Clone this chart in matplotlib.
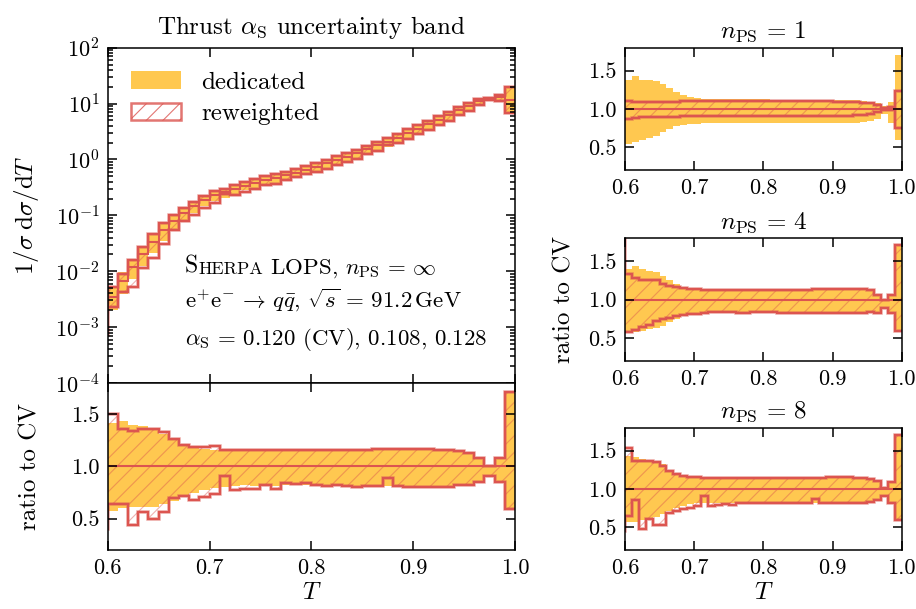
import matplotlib
matplotlib.use('Agg')
import matplotlib.pyplot as plt
from matplotlib.patches import Patch
import numpy as np

plt.rcParams['font.family'] = 'serif'
plt.rcParams['font.serif'] = ['cmr10']
plt.rcParams['mathtext.fontset'] = 'cm'
plt.rcParams['axes.formatter.use_mathtext'] = True
plt.rcParams['hatch.linewidth'] = 0.8

YELLOW = '#FFC850'
RED = '#DC5550'
HATCH = (0.86, 0.33, 0.31, 0.45)
FS = 16   # tick labels
LS = 18   # labels, titles, legend
TS = 16.5 # text block

# bin edges in thrust T (first bin 0.59-0.60 lies just outside the plotted range)
EDGES = np.linspace(0.59, 1.0, 42)

# central value 1/sigma dsigma/dT
CV = [1.8e-3, 3.5e-3, 6.6e-3, 1.2e-2, 2.0e-2, 3.4e-2, 5.4e-2, 7.9e-2, 0.11, 0.148, 0.19,
      0.23, 0.26, 0.30, 0.34, 0.38, 0.43, 0.47, 0.52, 0.58, 0.65,
      0.74, 0.85, 0.98, 1.12, 1.29, 1.51, 1.78, 2.09, 2.45, 2.95,
      3.55, 4.27, 5.13, 6.17, 7.59, 9.12, 11.0, 12.6, 13.2, 11.5]

# n_PS = infinity (ratio to CV)
INF_DED_HI = [1.42, 1.42, 1.44, 1.40, 1.39, 1.37, 1.31, 1.25, 1.21, 1.19, 1.17,
              1.16, 1.16, 1.16, 1.155, 1.155, 1.155, 1.155, 1.16, 1.16, 1.16,
              1.16, 1.16, 1.165, 1.165, 1.165, 1.165, 1.17, 1.17, 1.17, 1.17,
              1.17, 1.17, 1.165, 1.165, 1.155, 1.125, 1.08, 1.0, 1.08, 1.72]
INF_DED_LO = [0.575, 0.575, 0.60, 0.61, 0.61, 0.615, 0.64, 0.67, 0.71, 0.75, 0.77,
              0.79, 0.80, 0.815, 0.82, 0.815, 0.815, 0.815, 0.82, 0.82, 0.82,
              0.815, 0.81, 0.815, 0.81, 0.80, 0.81, 0.81, 0.81, 0.80, 0.80,
              0.80, 0.80, 0.80, 0.80, 0.81, 0.82, 0.85, 0.90, 0.85, 0.59]
INF_RW_HI = [1.50, 1.50, 1.36, 1.34, 1.36, 1.36, 1.33, 1.26, 1.21, 1.19, 1.19,
             1.20, 1.155, 1.155, 1.155, 1.155, 1.155, 1.155, 1.155, 1.155, 1.155,
             1.155, 1.16, 1.16, 1.16, 1.16, 1.16, 1.165, 1.165, 1.165, 1.165,
             1.165, 1.165, 1.16, 1.16, 1.15, 1.125, 1.08, 1.0, 1.08, 1.71]
INF_RW_LO = [0.40, 0.645, 0.645, 0.44, 0.565, 0.50, 0.56, 0.70, 0.72, 0.68, 0.71,
             0.735, 0.91, 0.77, 0.78, 0.78, 0.82, 0.78, 0.84, 0.835, 0.84,
             0.82, 0.81, 0.82, 0.81, 0.80, 0.815, 0.81, 0.885, 0.81, 0.80,
             0.80, 0.80, 0.80, 0.80, 0.82, 0.82, 0.85, 0.91, 0.85, 0.59]

# n_PS = 1
N1_DED_HI = [1.38, 1.38, 1.43, 1.38, 1.38, 1.36, 1.33, 1.27, 1.22, 1.18, 1.15,
             1.14, 1.13, 1.13, 1.13, 1.13, 1.13, 1.13, 1.13, 1.125, 1.125,
             1.125, 1.12, 1.12, 1.12, 1.12, 1.12, 1.12, 1.12, 1.12, 1.12,
             1.12, 1.12, 1.115, 1.11, 1.10, 1.09, 1.07, 1.04, 1.09, 1.71]
N1_DED_LO = [0.54, 0.54, 0.57, 0.59, 0.62, 0.65, 0.70, 0.74, 0.77, 0.79, 0.80,
             0.80, 0.81, 0.81, 0.81, 0.81, 0.81, 0.81, 0.81, 0.81, 0.81,
             0.81, 0.81, 0.81, 0.81, 0.81, 0.81, 0.81, 0.81, 0.81, 0.81,
             0.81, 0.815, 0.82, 0.82, 0.83, 0.84, 0.87, 0.93, 0.81, 0.59]
N1_RW_HI = [1.10, 1.10, 1.09, 1.09, 1.09, 1.09, 1.09, 1.09, 1.095, 1.10, 1.10,
            1.10, 1.10, 1.10, 1.10, 1.10, 1.10, 1.10, 1.10, 1.10, 1.10,
            1.10, 1.10, 1.10, 1.10, 1.10, 1.10, 1.10, 1.10, 1.10, 1.10,
            1.095, 1.09, 1.09, 1.085, 1.08, 1.07, 1.05, 1.01, 1.03, 1.23]
N1_RW_LO = [0.87, 0.87, 0.88, 0.89, 0.89, 0.89, 0.89, 0.89, 0.895, 0.90, 0.90,
            0.90, 0.90, 0.90, 0.90, 0.90, 0.90, 0.90, 0.90, 0.90, 0.90,
            0.90, 0.90, 0.90, 0.90, 0.90, 0.90, 0.90, 0.90, 0.90, 0.905,
            0.905, 0.91, 0.91, 0.915, 0.92, 0.935, 0.96, 0.99, 0.98, 0.75]

# n_PS = 4
N4_DED_HI = [1.40, 1.40, 1.44, 1.40, 1.37, 1.36, 1.31, 1.25, 1.21, 1.17, 1.15,
             1.14, 1.14, 1.14, 1.135, 1.135, 1.13, 1.13, 1.13, 1.13, 1.13,
             1.13, 1.13, 1.13, 1.13, 1.13, 1.13, 1.13, 1.135, 1.135, 1.14,
             1.14, 1.14, 1.14, 1.14, 1.14, 1.12, 1.07, 1.0, 1.07, 1.71]
N4_DED_LO = [0.57, 0.57, 0.575, 0.59, 0.61, 0.63, 0.66, 0.70, 0.74, 0.78, 0.80,
             0.81, 0.82, 0.83, 0.83, 0.835, 0.835, 0.835, 0.835, 0.835, 0.835,
             0.835, 0.835, 0.83, 0.83, 0.83, 0.83, 0.83, 0.83, 0.83, 0.83,
             0.83, 0.825, 0.825, 0.825, 0.83, 0.835, 0.83, 0.89, 0.83, 0.59]
N4_RW_HI = [2.0, 1.33, 1.28, 1.26, 1.26, 1.25, 1.21, 1.18, 1.17, 1.15, 1.14,
            1.135, 1.13, 1.13, 1.13, 1.13, 1.125, 1.125, 1.125, 1.13, 1.13,
            1.13, 1.13, 1.13, 1.13, 1.13, 1.13, 1.13, 1.135, 1.135, 1.14,
            1.14, 1.14, 1.14, 1.14, 1.14, 1.12, 1.065, 1.0, 1.065, 1.71]
N4_RW_LO = [0.57, 0.57, 0.60, 0.64, 0.67, 0.72, 0.75, 0.76, 0.79, 0.80, 0.81,
            0.815, 0.82, 0.835, 0.835, 0.835, 0.835, 0.83, 0.83, 0.84, 0.84,
            0.835, 0.835, 0.83, 0.83, 0.83, 0.83, 0.825, 0.825, 0.83, 0.83,
            0.825, 0.825, 0.825, 0.825, 0.83, 0.835, 0.83, 0.89, 0.83, 0.59]

# n_PS = 8
N8_DED_HI = [1.43, 1.43, 1.42, 1.39, 1.38, 1.36, 1.32, 1.25, 1.21, 1.17, 1.16,
             1.145, 1.14, 1.14, 1.14, 1.14, 1.14, 1.14, 1.14, 1.14, 1.14,
             1.14, 1.14, 1.14, 1.14, 1.14, 1.14, 1.14, 1.145, 1.145, 1.15,
             1.15, 1.15, 1.15, 1.145, 1.14, 1.13, 1.10, 1.02, 1.08, 1.71]
N8_DED_LO = [0.56, 0.56, 0.565, 0.59, 0.60, 0.63, 0.67, 0.71, 0.75, 0.78, 0.80,
             0.81, 0.82, 0.82, 0.82, 0.82, 0.82, 0.82, 0.82, 0.82, 0.82,
             0.82, 0.82, 0.815, 0.815, 0.815, 0.815, 0.815, 0.815, 0.815, 0.81,
             0.81, 0.81, 0.81, 0.815, 0.82, 0.83, 0.85, 0.90, 0.83, 0.59]
N8_RW_HI = [1.54, 1.54, 1.37, 1.36, 1.36, 1.35, 1.30, 1.24, 1.20, 1.17, 1.16,
            1.155, 1.14, 1.14, 1.14, 1.14, 1.14, 1.14, 1.14, 1.14, 1.14,
            1.14, 1.14, 1.14, 1.14, 1.14, 1.14, 1.14, 1.145, 1.145, 1.15,
            1.15, 1.15, 1.15, 1.145, 1.14, 1.13, 1.10, 1.01, 1.09, 1.71]
N8_RW_LO = [0.45, 0.64, 0.85, 0.47, 0.61, 0.53, 0.53, 0.69, 0.71, 0.73, 0.75,
            0.77, 0.91, 0.78, 0.79, 0.80, 0.79, 0.81, 0.81, 0.81, 0.82,
            0.81, 0.82, 0.81, 0.81, 0.81, 0.82, 0.82, 0.87, 0.81, 0.81,
            0.81, 0.81, 0.81, 0.82, 0.82, 0.83, 0.86, 0.90, 0.82, 0.59]

TITLES = [r'$n_{\mathrm{PS}}\,=\,1$', r'$n_{\mathrm{PS}}\,=\,4$', r'$n_{\mathrm{PS}}\,=\,8$']


def draw_band(ax, ded_lo, ded_hi, rw_lo, rw_hi, scale):
    scale = np.asarray(scale, dtype=float)
    dlo, dhi = np.asarray(ded_lo) * scale, np.asarray(ded_hi) * scale
    rlo, rhi = np.asarray(rw_lo) * scale, np.asarray(rw_hi) * scale
    ax.stairs(dhi, EDGES, baseline=dlo, fill=True, color=YELLOW, lw=0)
    ax.stairs(rhi, EDGES, baseline=rlo, fill=True, facecolor='none',
              edgecolor=HATCH, hatch='//', lw=0)
    ax.stairs(rhi, EDGES, baseline=None, color=RED, lw=2.8, alpha=0.3)
    ax.stairs(rlo, EDGES, baseline=None, color=RED, lw=2.8, alpha=0.3)
    ax.stairs(rhi, EDGES, baseline=None, color=RED, lw=1.7)
    ax.stairs(rlo, EDGES, baseline=None, color=RED, lw=1.7)
    ax.stairs(scale, EDGES, baseline=None, color=RED, lw=1.5)


def style(ax):
    ax.tick_params(which='both', direction='in', top=True, right=True,
                   labelsize=FS, width=1.1, pad=6)
    ax.tick_params(which='major', length=6.5)
    ax.tick_params(which='minor', length=3.5)
    for s in ax.spines.values():
        s.set_linewidth(1.1)
    ax.set_xlim(0.6, 1.0)
    ax.set_xticks([0.6, 0.7, 0.8, 0.9, 1.0])


def ratio_axis(ax):
    style(ax)
    ax.set_ylim(0.2, 1.8)
    ax.set_yticks([0.5, 1.0, 1.5])
    ax.set_yticklabels(['0.5', '1.0', '1.5'])
    ax.set_xticklabels(['0.6', '0.7', '0.8', '0.9', '1.0'])


fig = plt.figure(figsize=(9.16, 6.09), dpi=100)

# left: distribution and ratio
ax_main = fig.add_axes([0.1176, 0.3711, 0.4446, 0.5506])
ax_rat = fig.add_axes([0.1176, 0.0969, 0.4446, 0.2742])

ones = np.ones(len(CV))
draw_band(ax_main, INF_DED_LO, INF_DED_HI, INF_RW_LO, INF_RW_HI, CV)
style(ax_main)
ax_main.set_yscale('log')
ax_main.set_ylim(1e-4, 1e2)
ax_main.set_xticklabels([])
ax_main.set_ylabel(r'$1/\sigma\;\mathrm{d}\sigma/\mathrm{d}T$', fontsize=LS)
ax_main.yaxis.set_label_coords(-0.163, 0.5)
ax_main.set_title(r'Thrust $\alpha_{\mathrm{S}}$ uncertainty band', fontsize=LS, pad=10)

handles = [Patch(facecolor=YELLOW, edgecolor='none', label='dedicated'),
           Patch(facecolor='none', edgecolor=(0.86, 0.33, 0.31, 0.8), hatch='//',
                 lw=1.8, label='reweighted')]
ax_main.legend(handles=handles, loc='upper left', frameon=False, fontsize=LS,
               handlelength=2.0, handleheight=0.7, handletextpad=0.8,
               labelspacing=0.35, borderaxespad=0.55)

# "Sherpa" in small capitals: large S followed by smaller capitals
t1 = ax_main.text(0.19, 0.331, 'S', transform=ax_main.transAxes, fontsize=TS + 0.5,
                  va='baseline')
t2 = ax_main.annotate('HERPA', xy=(1, 0), xycoords=t1, fontsize=TS - 3.5, va='bottom')
ax_main.annotate(r' LOPS, $n_{\mathrm{PS}}\,=\,\infty$', xy=(1, 0), xycoords=t2,
                 xytext=(0, 2.4), textcoords='offset points', fontsize=TS, va='baseline')
ax_main.text(0.19, 0.224,
             r'$\mathrm{e}^{+}\mathrm{e}^{-}\,\to\,q\bar{q}$, $\sqrt{s}\,=\,91.2\,\mathrm{GeV}$',
             transform=ax_main.transAxes, fontsize=TS, va='baseline')
ax_main.text(0.19, 0.113, r'$\alpha_{\mathrm{S}}\,=\,0.120$ (CV), 0.108, 0.128',
             transform=ax_main.transAxes, fontsize=TS, va='baseline')

draw_band(ax_rat, INF_DED_LO, INF_DED_HI, INF_RW_LO, INF_RW_HI, ones)
ratio_axis(ax_rat)
ax_rat.set_ylabel('ratio to CV', fontsize=LS)
ax_rat.yaxis.set_label_coords(-0.163, 0.5)
ax_rat.set_xlabel(r'$T$', fontsize=LS, labelpad=3)

# right: ratios for finite n_PS
right_data = [(N1_DED_LO, N1_DED_HI, N1_RW_LO, N1_RW_HI),
              (N4_DED_LO, N4_DED_HI, N4_RW_LO, N4_RW_HI),
              (N8_DED_LO, N8_DED_HI, N8_RW_LO, N8_RW_HI)]
bottoms = [0.7209, 0.4077, 0.0969]
for i, (data, b) in enumerate(zip(right_data, bottoms)):
    ax = fig.add_axes([0.6823, b, 0.3021, 0.2008])
    draw_band(ax, *data, ones)
    ratio_axis(ax)
    ax.set_title(TITLES[i], fontsize=LS, pad=7)
    if i == 1:
        ax.set_ylabel('ratio to CV', fontsize=LS)
        ax.yaxis.set_label_coords(-0.18, 0.5)
    if i == 2:
        ax.set_xlabel(r'$T$', fontsize=LS, labelpad=3)

fig.savefig('out.png', dpi=100)
